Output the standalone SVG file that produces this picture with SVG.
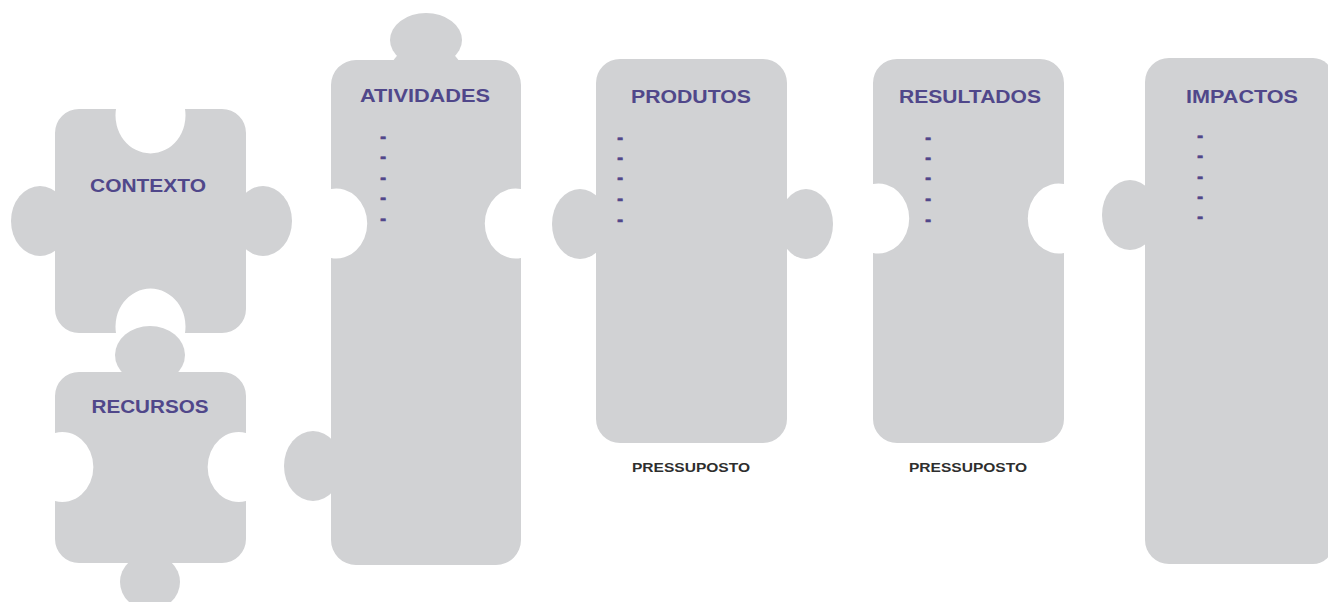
<svg xmlns="http://www.w3.org/2000/svg" width="1328" height="602" viewBox="0 0 1328 602">
<style>
.pc{fill:#d1d2d4;}
.t{font-family:"Liberation Sans","DejaVu Sans",sans-serif;font-weight:bold;font-size:17.5px;fill:#50478a;text-anchor:middle;}
.d{font-family:"DejaVu Sans","Liberation Sans",sans-serif;font-weight:bold;font-size:15px;fill:#50478a;stroke:#50478a;stroke-width:0.6;text-anchor:middle;}
.p{font-family:"Liberation Sans","DejaVu Sans",sans-serif;font-weight:bold;font-size:12.5px;fill:#2e2e2e;text-anchor:middle;}
</style>
<rect width="1328" height="602" fill="#ffffff"/>
<g id="connectors"/>
<g id="contexto">
<ellipse class="pc" cx="40" cy="221" rx="29" ry="35"/>
<ellipse class="pc" cx="263" cy="221" rx="29" ry="35"/>
<path class="pc" d="M 79 109 L 116 109 A 35 38 0 1 0 185 109 L 222 109 A 24 24 0 0 1 246 133 L 246 309 A 24 24 0 0 1 222 333 L 185 333 A 35 38 0 1 0 116 333 L 79 333 A 24 24 0 0 1 55 309 L 55 133 A 24 24 0 0 1 79 109 Z"/>
<text class="t" x="148" y="192" textLength="116" lengthAdjust="spacingAndGlyphs">CONTEXTO</text>
</g>
<g id="recursos">
<ellipse class="pc" cx="150" cy="355" rx="35" ry="29"/>
<ellipse class="pc" cx="150" cy="582" rx="30" ry="28"/>
<path class="pc" d="M 79 372 L 222 372 A 24 24 0 0 1 246 396 L 246 433 A 31 35 0 1 0 246 501 L 246 539 A 24 24 0 0 1 222 563 L 79 563 A 24 24 0 0 1 55 539 L 55 501 A 31 35 0 1 0 55 433 L 55 396 A 24 24 0 0 1 79 372 Z"/>
<text class="t" x="150" y="413" textLength="117" lengthAdjust="spacingAndGlyphs">RECURSOS</text>
</g>
<g id="atividades">
<ellipse class="pc" cx="426" cy="40" rx="36" ry="27"/>
<path class="pc" d="M 400 52 L 452 52 L 460 62 L 392 62 Z"/>
<ellipse class="pc" cx="313" cy="466" rx="29" ry="35"/>
<path class="pc" d="M 356 60 L 496 60 A 25 25 0 0 1 521 85 L 521 189 A 31 35 0 1 0 521 258 L 521 540 A 25 25 0 0 1 496 565 L 356 565 A 25 25 0 0 1 331 540 L 331 258 A 31 35 0 1 0 331 189 L 331 85 A 25 25 0 0 1 356 60 Z"/>
<text class="t" x="425" y="102" textLength="130" lengthAdjust="spacingAndGlyphs">ATIVIDADES</text>
<text class="d"><tspan x="383" y="142">-</tspan><tspan x="383" y="162">-</tspan><tspan x="383" y="183">-</tspan><tspan x="383" y="203">-</tspan><tspan x="383" y="224">-</tspan></text>
</g>
<g id="produtos">
<ellipse class="pc" cx="580" cy="224" rx="28" ry="35"/>
<ellipse class="pc" cx="806" cy="224" rx="27" ry="35"/>
<path class="pc" d="M 620 59 L 763 59 A 24 24 0 0 1 787 83 L 787 419 A 24 24 0 0 1 763 443 L 620 443 A 24 24 0 0 1 596 419 L 596 83 A 24 24 0 0 1 620 59 Z"/>
<text class="t" x="691" y="103" textLength="120" lengthAdjust="spacingAndGlyphs">PRODUTOS</text>
<text class="d"><tspan x="620" y="143">-</tspan><tspan x="620" y="163">-</tspan><tspan x="620" y="183">-</tspan><tspan x="620" y="204">-</tspan><tspan x="620" y="225">-</tspan></text>
<text class="p" x="691" y="472" textLength="118" lengthAdjust="spacingAndGlyphs">PRESSUPOSTO</text>
</g>
<g id="resultados">
<path class="pc" d="M 897 59 L 1040 59 A 24 24 0 0 1 1064 83 L 1064 184 A 31 35 0 1 0 1064 253 L 1064 419 A 24 24 0 0 1 1040 443 L 897 443 A 24 24 0 0 1 873 419 L 873 253 A 31 35 0 1 0 873 184 L 873 83 A 24 24 0 0 1 897 59 Z"/>
<text class="t" x="970" y="103" textLength="142" lengthAdjust="spacingAndGlyphs">RESULTADOS</text>
<text class="d"><tspan x="928" y="143">-</tspan><tspan x="928" y="163">-</tspan><tspan x="928" y="183">-</tspan><tspan x="928" y="204">-</tspan><tspan x="928" y="225">-</tspan></text>
<text class="p" x="968" y="472" textLength="118" lengthAdjust="spacingAndGlyphs">PRESSUPOSTO</text>
</g>
<g id="impactos">
<ellipse class="pc" cx="1130" cy="215" rx="28" ry="35"/>
<path class="pc" d="M 1169 58 L 1313 58 A 20 20 0 0 1 1333 78 L 1333 544 A 20 20 0 0 1 1313 564 L 1169 564 A 24 24 0 0 1 1145 540 L 1145 82 A 24 24 0 0 1 1169 58 Z"/>
<text class="t" x="1242" y="103" textLength="112" lengthAdjust="spacingAndGlyphs">IMPACTOS</text>
<text class="d"><tspan x="1200" y="141">-</tspan><tspan x="1200" y="161">-</tspan><tspan x="1200" y="182">-</tspan><tspan x="1200" y="202">-</tspan><tspan x="1200" y="222">-</tspan></text>
</g>
</svg>
